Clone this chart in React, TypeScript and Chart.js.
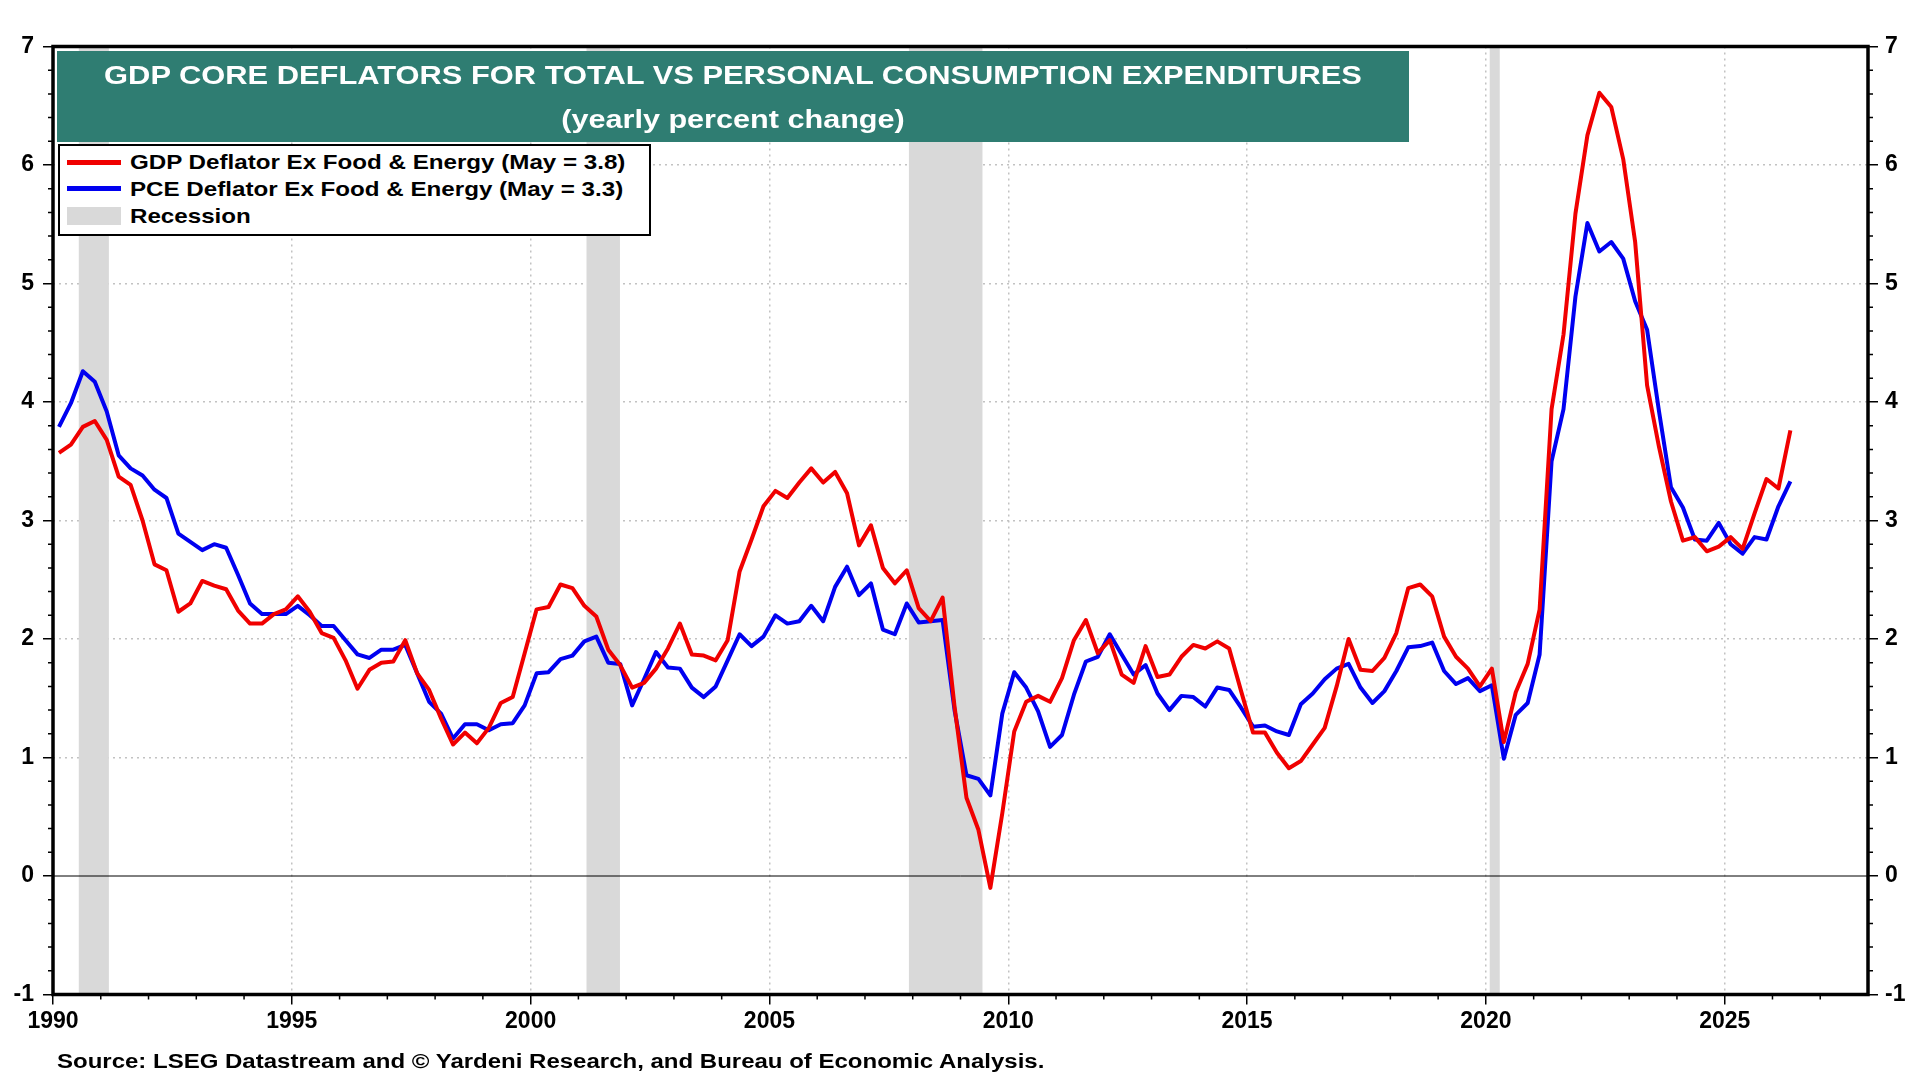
import { useEffect, useRef } from 'react';
import { Chart, registerables } from 'chart.js';

Chart.register(...registerables);

const FONT = '"Liberation Sans", Arial, Helvetica, sans-serif';

// quarterly readings, 1990 Q1 .. 2026 Q2 (yearly percent change)
const firstQuarterMid = 1990.125;

const gdpCore = [
  3.57, 3.64, 3.79, 3.84, 3.68, 3.37, 3.30, 3.00,
  2.63, 2.58, 2.23, 2.30, 2.49, 2.45, 2.42, 2.24,
  2.13, 2.13, 2.21, 2.25, 2.36, 2.23, 2.05, 2.01,
  1.82, 1.58, 1.74, 1.80, 1.81, 1.99, 1.71, 1.57,
  1.33, 1.11, 1.21, 1.12, 1.25, 1.46, 1.51, 1.88,
  2.25, 2.27, 2.46, 2.43, 2.28, 2.19, 1.91, 1.78,
  1.59, 1.63, 1.75, 1.92, 2.13, 1.87, 1.86, 1.82,
  1.99, 2.57, 2.84, 3.12, 3.25, 3.19, 3.32, 3.44,
  3.32, 3.41, 3.23, 2.79, 2.96, 2.60, 2.47, 2.58,
  2.26, 2.15, 2.35, 1.43, 0.66, 0.39, -0.10, 0.53,
  1.22, 1.47, 1.52, 1.47, 1.67, 1.99, 2.16, 1.88,
  1.99, 1.70, 1.63, 1.94, 1.68, 1.70, 1.85, 1.95,
  1.92, 1.98, 1.92, 1.56, 1.21, 1.21, 1.04, 0.91,
  0.97, 1.11, 1.25, 1.60, 2.00, 1.74, 1.73, 1.84,
  2.05, 2.43, 2.46, 2.36, 2.02, 1.85, 1.75, 1.60,
  1.75, 1.13, 1.55, 1.79, 2.25, 3.94, 4.57, 5.59,
  6.25, 6.61, 6.49, 6.05, 5.35, 4.14, 3.62, 3.16,
  2.83, 2.86, 2.74, 2.78, 2.86, 2.76, 3.06, 3.35,
  3.27, 3.76,
];

const pceCore = [
  3.79, 3.99, 4.26, 4.17, 3.92, 3.55, 3.44, 3.38,
  3.26, 3.19, 2.89, 2.82, 2.75, 2.80, 2.77, 2.54,
  2.30, 2.21, 2.21, 2.21, 2.28, 2.20, 2.11, 2.11,
  1.99, 1.87, 1.84, 1.91, 1.91, 1.95, 1.71, 1.47,
  1.37, 1.16, 1.28, 1.28, 1.23, 1.28, 1.29, 1.44,
  1.71, 1.72, 1.83, 1.86, 1.98, 2.02, 1.80, 1.79,
  1.44, 1.66, 1.89, 1.76, 1.75, 1.59, 1.51, 1.60,
  1.82, 2.04, 1.94, 2.02, 2.20, 2.13, 2.15, 2.28,
  2.15, 2.44, 2.61, 2.37, 2.47, 2.08, 2.04, 2.30,
  2.14, 2.15, 2.16, 1.40, 0.85, 0.82, 0.68, 1.37,
  1.72, 1.59, 1.39, 1.09, 1.19, 1.53, 1.81, 1.85,
  2.04, 1.87, 1.70, 1.78, 1.54, 1.40, 1.52, 1.51,
  1.43, 1.59, 1.57, 1.42, 1.26, 1.27, 1.22, 1.19,
  1.45, 1.54, 1.66, 1.75, 1.79, 1.59, 1.46, 1.56,
  1.73, 1.93, 1.94, 1.97, 1.73, 1.62, 1.67, 1.56,
  1.61, 0.99, 1.36, 1.46, 1.87, 3.50, 3.94, 4.89,
  5.51, 5.27, 5.35, 5.21, 4.85, 4.61, 3.92, 3.28,
  3.11, 2.84, 2.83, 2.98, 2.80, 2.72, 2.86, 2.84,
  3.12, 3.33,
];

const recessionStarts = [1990.54, 2001.17, 2007.92, 2020.08];
const recessionEnds = [1991.17, 2001.87, 2009.46, 2020.29];

const xTickYears = [1990, 1995, 2000, 2005, 2010, 2015, 2020, 2025];
const yTickValues = [-1, 0, 1, 2, 3, 4, 5, 6, 7];

const seriesLabels = [
  'GDP Deflator Ex Food & Energy (May = 3.8)',
  'PCE Deflator Ex Food & Energy (May = 3.3)',
];
const seriesColors = ['#f00000', '#0000f0'];
const recessionColor = '#d9d9d9';

const titleLines = [
  'GDP CORE DEFLATORS FOR TOTAL VS PERSONAL CONSUMPTION EXPENDITURES',
  '(yearly percent change)',
];
const sourceText =
  'Source: LSEG Datastream and \u00a9 Yardeni Research, and Bureau of Economic Analysis.';

const toPoints = (values: number[]) =>
  values.map((v, i) => ({ x: firstQuarterMid + i * 0.25, y: v }));

const tickFont = { family: FONT, size: 23, weight: 'bold' as const };

// grid lines on the frame edges and at zero are drawn separately
const gridColor = (hidden: number[]) => (ctx: any) =>
  ctx.tick && hidden.includes(ctx.tick.value) ? 'rgba(0,0,0,0)' : '#c2c2c2';

const decorPlugin = {
  id: 'decor',
  beforeDatasetsDraw(chart: any) {
    const { ctx, chartArea: a, scales } = chart;
    ctx.save();
    ctx.fillStyle = recessionColor;
    recessionStarts.forEach((s, i) => {
      const x0 = scales.x.getPixelForValue(s);
      const x1 = scales.x.getPixelForValue(recessionEnds[i]);
      ctx.fillRect(x0, a.top, x1 - x0, a.bottom - a.top);
    });
    const y0 = scales.y.getPixelForValue(0);
    ctx.strokeStyle = '#000';
    ctx.lineWidth = 1;
    ctx.beginPath();
    ctx.moveTo(a.left, y0);
    ctx.lineTo(a.right, y0);
    ctx.stroke();
    ctx.restore();
  },
  afterDatasetsDraw(chart: any) {
    const { ctx, chartArea: a } = chart;
    ctx.save();
    ctx.strokeStyle = '#000';
    ctx.lineWidth = 3.5;
    ctx.strokeRect(a.left, a.top, a.right - a.left, a.bottom - a.top);
    ctx.restore();
  },
  afterDraw(chart: any) {
    const { ctx, chartArea: a, scales } = chart;
    ctx.save();
    ctx.strokeStyle = '#000';
    ctx.lineWidth = 1.5;
    ctx.beginPath();
    // minor ticks: every 0.2 on the value axes, every year on the time axis
    for (let k = 0; k <= 40; k++) {
      if (k % 5 === 0) continue;
      const py = scales.y.getPixelForValue(-1 + k * 0.2);
      ctx.moveTo(a.left - 5, py);
      ctx.lineTo(a.left, py);
      ctx.moveTo(a.right, py);
      ctx.lineTo(a.right + 5, py);
    }
    for (let yr = 1991; yr < 2028; yr++) {
      if (yr % 5 === 0) continue;
      const px = scales.x.getPixelForValue(yr);
      ctx.moveTo(px, a.bottom);
      ctx.lineTo(px, a.bottom + 5);
    }
    ctx.stroke();
    ctx.restore();
  },
};

export default function App() {
  const canvasRef = useRef<HTMLCanvasElement>(null);
  const chartRef = useRef<Chart | null>(null);

  useEffect(() => {
    document.body.style.margin = '0';
    if (!canvasRef.current) return;
    if (chartRef.current) chartRef.current.destroy();

    const tickMarks = {
      tickLength: 10,
      tickColor: '#000',
      tickWidth: 1.5,
      lineWidth: 1.5,
    };

    chartRef.current = new Chart(canvasRef.current, {
      type: 'line',
      data: {
        datasets: [
          {
            label: seriesLabels[0],
            data: toPoints(gdpCore),
            borderColor: seriesColors[0],
            borderWidth: 4,
            pointRadius: 0,
            tension: 0,
            fill: false,
            borderJoinStyle: 'round',
          },
          {
            label: seriesLabels[1],
            data: toPoints(pceCore),
            borderColor: seriesColors[1],
            borderWidth: 4,
            pointRadius: 0,
            tension: 0,
            fill: false,
            borderJoinStyle: 'round',
          },
        ],
      },
      options: {
        responsive: false,
        animation: false,
        layout: { padding: { top: 46.5, left: 0, right: 0, bottom: 0 } },
        plugins: {
          legend: { display: false },
          tooltip: { enabled: false },
          title: { display: false },
        },
        scales: {
          x: {
            type: 'linear',
            min: 1990,
            max: 2028,
            afterBuildTicks: (s: any) => {
              s.ticks = xTickYears.map((value) => ({ value }));
            },
            afterFit: (s: any) => {
              s.height = 85.5;
            },
            grid: { ...tickMarks, color: gridColor([1990]) },
            border: { display: false, dash: [2, 4] },
            ticks: {
              color: '#000',
              font: tickFont,
              padding: 3,
              autoSkip: false,
              maxRotation: 0,
              callback: (v: any) => String(v),
            },
          },
          y: {
            type: 'linear',
            position: 'left',
            min: -1,
            max: 7,
            afterBuildTicks: (s: any) => {
              s.ticks = yTickValues.map((value) => ({ value }));
            },
            afterFit: (s: any) => {
              s.width = 53;
            },
            grid: { ...tickMarks, color: gridColor([-1, 0, 7]) },
            border: { display: false, dash: [2, 4] },
            ticks: { color: '#000', font: tickFont, padding: 9 },
          },
          y2: {
            type: 'linear',
            position: 'right',
            min: -1,
            max: 7,
            afterBuildTicks: (s: any) => {
              s.ticks = yTickValues.map((value) => ({ value }));
            },
            afterFit: (s: any) => {
              s.width = 52;
            },
            grid: { ...tickMarks, drawOnChartArea: false },
            border: { display: false },
            ticks: { color: '#000', font: tickFont, padding: 7 },
          },
        },
      },
      plugins: [decorPlugin],
    } as any);

    return () => {
      if (chartRef.current) {
        chartRef.current.destroy();
        chartRef.current = null;
      }
    };
  }, []);

  const legendRows = [
    { label: seriesLabels[0], color: seriesColors[0], kind: 'line' },
    { label: seriesLabels[1], color: seriesColors[1], kind: 'line' },
    { label: 'Recession', color: recessionColor, kind: 'box' },
  ];
  const rowCenters = [16, 42.5, 69.5];

  return (
    <div
      style={{
        position: 'relative',
        width: 1920,
        height: 1080,
        overflow: 'hidden',
        background: '#fff',
        fontFamily: FONT,
        fontWeight: 'bold',
      }}
    >
      <canvas
        ref={canvasRef}
        width={1920}
        height={1080}
        style={{ position: 'absolute', left: 0, top: 0, width: 1920, height: 1080 }}
      />

      <div
        style={{
          position: 'absolute',
          left: 57,
          top: 51,
          width: 1352,
          height: 91,
          background: '#2f7d72',
          color: '#fff',
          fontSize: 25.5,
        }}
      >
        {titleLines.map((line, i) => (
          <div
            key={line}
            style={{
              position: 'absolute',
              left: 0,
              right: 0,
              top: i === 0 ? 9 : 53,
              lineHeight: '30px',
              textAlign: 'center',
              whiteSpace: 'nowrap',
              transform: i === 0 ? 'scaleX(1.21)' : 'scaleX(1.2)',
              transformOrigin: 'center',
            }}
          >
            {line}
          </div>
        ))}
      </div>

      <div
        style={{
          position: 'absolute',
          left: 58,
          top: 144,
          width: 593,
          height: 92,
          boxSizing: 'border-box',
          border: '2.5px solid #000',
          background: '#fff',
          fontSize: 21,
          color: '#000',
        }}
      >
        {legendRows.map((row, i) => (
          <div key={row.label}>
            <div
              style={{
                position: 'absolute',
                left: 6.5,
                width: 54,
                top: rowCenters[i] - (row.kind === 'line' ? 2.5 : 9),
                height: row.kind === 'line' ? 5 : 18,
                background: row.color,
              }}
            />
            <div
              style={{
                position: 'absolute',
                left: 69.5,
                top: rowCenters[i] - 12,
                lineHeight: '24px',
                whiteSpace: 'nowrap',
                transform: 'scaleX(1.15)',
                transformOrigin: 'left center',
              }}
            >
              {row.label}
            </div>
          </div>
        ))}
      </div>

      <div
        style={{
          position: 'absolute',
          left: 57,
          top: 1049,
          fontSize: 20,
          lineHeight: '24px',
          color: '#000',
          whiteSpace: 'nowrap',
          transform: 'scaleX(1.2)',
          transformOrigin: 'left center',
        }}
      >
        {sourceText}
      </div>
    </div>
  );
}
